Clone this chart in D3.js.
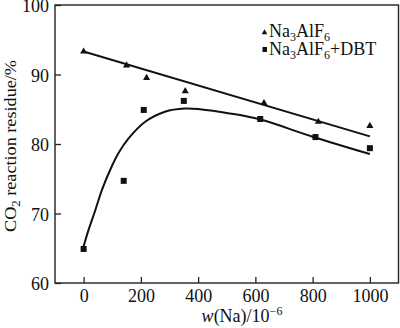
<!DOCTYPE html>
<html>
<head>
<meta charset="utf-8">
<script src="https://cdn.jsdelivr.net/npm/d3@7"></script>
<style>
  html, body { margin: 0; padding: 0; background: #fff; }
  svg { display: block; }
  text { font-family: "Liberation Serif", "Times New Roman", serif; fill: #111; }
</style>
</head>
<body>
<svg id="chart" width="400" height="328"></svg>
<script>
// Na content (10^-6) for each sample
const naContent = [0, 150, 220, 355, 630, 820, 1000];
const naContentDBT = [0, 140, 210, 350, 617, 810, 1000];
// CO2 reaction residue (%)
const residueNa3AlF6 = [93.3, 91.3, 89.5, 87.6, 85.9, 83.2, 82.6];
const residueDBT = [64.9, 74.7, 84.9, 86.2, 83.6, 81.0, 79.4];

// Fitted trend lines
const fitLineX = [0, 1000];
const fitLineY = [93.3, 81.1];
const fitCurveX = [0, 17, 41, 64, 93, 122, 157, 215, 284, 354, 406, 510, 615, 800, 1000];
const fitCurveY = [65.3, 67.6, 70.5, 73.4, 76.3, 78.7, 80.8, 83.2, 84.65, 85.1, 85.0, 84.4, 83.55, 81.05, 78.55];

const xTicks = [0, 200, 400, 600, 800, 1000];
const yTicks = [60, 70, 80, 90, 100];

const svg = d3.select("#chart");
const plotLeft = 55, plotRight = 398.5, plotTop = 5, plotBottom = 283;

const x = d3.scaleLinear().domain([-100, 1100]).range([plotLeft, plotRight]);
const y = d3.scaleLinear().domain([60, 100]).range([plotBottom, plotTop]);

// Frame
svg.append("rect")
  .attr("x", plotLeft).attr("y", plotTop)
  .attr("width", plotRight - plotLeft).attr("height", plotBottom - plotTop)
  .attr("fill", "none").attr("stroke", "#222").attr("stroke-width", 1.4);

// Axes with inward ticks
const xAxis = svg.append("g")
  .attr("transform", `translate(0,${plotBottom})`)
  .call(d3.axisBottom(x).tickValues(xTicks).tickFormat(d3.format("d"))
    .tickSizeInner(-6).tickSizeOuter(0).tickPadding(6));
const yAxis = svg.append("g")
  .attr("transform", `translate(${plotLeft},0)`)
  .call(d3.axisLeft(y).tickValues(yTicks).tickFormat(d3.format("d"))
    .tickSizeInner(-6).tickSizeOuter(0).tickPadding(6));

[xAxis, yAxis].forEach(g => {
  g.select(".domain").remove();
  g.selectAll(".tick line").attr("stroke", "#222").attr("stroke-width", 1.3);
  g.selectAll(".tick text")
    .attr("font-size", 18)
    .style("font-family", "'Liberation Serif', serif")
    .attr("fill", "#111");
});
yAxis.selectAll(".tick text").attr("x", -6).attr("dy", "0.38em");
xAxis.selectAll(".tick text").attr("dy", "0.71em");

// Trend lines
const lineGen = d3.line().x(d => x(d[0])).y(d => y(d[1]));
svg.append("path")
  .datum(d3.zip(fitLineX, fitLineY))
  .attr("d", lineGen)
  .attr("fill", "none").attr("stroke", "#111").attr("stroke-width", 2);

svg.append("path")
  .datum(d3.zip(fitCurveX, fitCurveY))
  .attr("d", lineGen.curve(d3.curveCatmullRom.alpha(0.5)))
  .attr("fill", "none").attr("stroke", "#111").attr("stroke-width", 2);

// Markers
const tri = d3.symbol().type(d3.symbolTriangle).size(22);
svg.append("g").selectAll("path")
  .data(d3.zip(naContent, residueNa3AlF6))
  .join("path")
  .attr("d", tri)
  .attr("transform", d => `translate(${x(d[0])},${y(d[1])})`)
  .attr("fill", "#111");

const sq = 6;
svg.append("g").selectAll("rect")
  .data(d3.zip(naContentDBT, residueDBT))
  .join("rect")
  .attr("x", d => x(d[0]) - sq / 2)
  .attr("y", d => y(d[1]) - sq / 2)
  .attr("width", sq).attr("height", sq)
  .attr("fill", "#111");

// Legend
const legend = svg.append("g");
legend.append("path")
  .attr("d", d3.symbol().type(d3.symbolTriangle).size(14))
  .attr("transform", "translate(264.5,32.5)")
  .attr("fill", "#111");
legend.append("rect")
  .attr("x", 262.5).attr("y", 47).attr("width", 4.5).attr("height", 5)
  .attr("fill", "#111");

function formula(g, xPos, yPos, extra) {
  const t = g.append("text").attr("x", xPos).attr("y", yPos).attr("font-size", 18);
  t.append("tspan").text("Na");
  t.append("tspan").attr("font-size", 12).attr("dy", 4).text("3");
  t.append("tspan").attr("dy", -4).text("AlF");
  t.append("tspan").attr("font-size", 12).attr("dy", 4).text("6");
  if (extra) t.append("tspan").attr("dy", -4).text(extra);
  return t;
}
formula(legend, 269, 36.5, null);
formula(legend, 269, 55, "+DBT");

// Axis titles
const xt = svg.append("text")
  .attr("x", 242).attr("y", 322)
  .attr("text-anchor", "middle").attr("font-size", 18);
xt.append("tspan").attr("font-style", "italic").text("w");
xt.append("tspan").text("(Na)/10");
xt.append("tspan").attr("font-size", 12).attr("dy", -7).text("\u22126");

const yt = svg.append("text")
  .attr("transform", `translate(15.5,146) rotate(-90)`)
  .attr("text-anchor", "middle").attr("font-size", 17)
  .attr("textLength", 172).attr("lengthAdjust", "spacingAndGlyphs");
yt.append("tspan").text("CO");
yt.append("tspan").attr("font-size", 12).attr("dy", 4).text("2");
yt.append("tspan").attr("dy", -4).text(" reaction residue/%");
</script>
</body>
</html>
